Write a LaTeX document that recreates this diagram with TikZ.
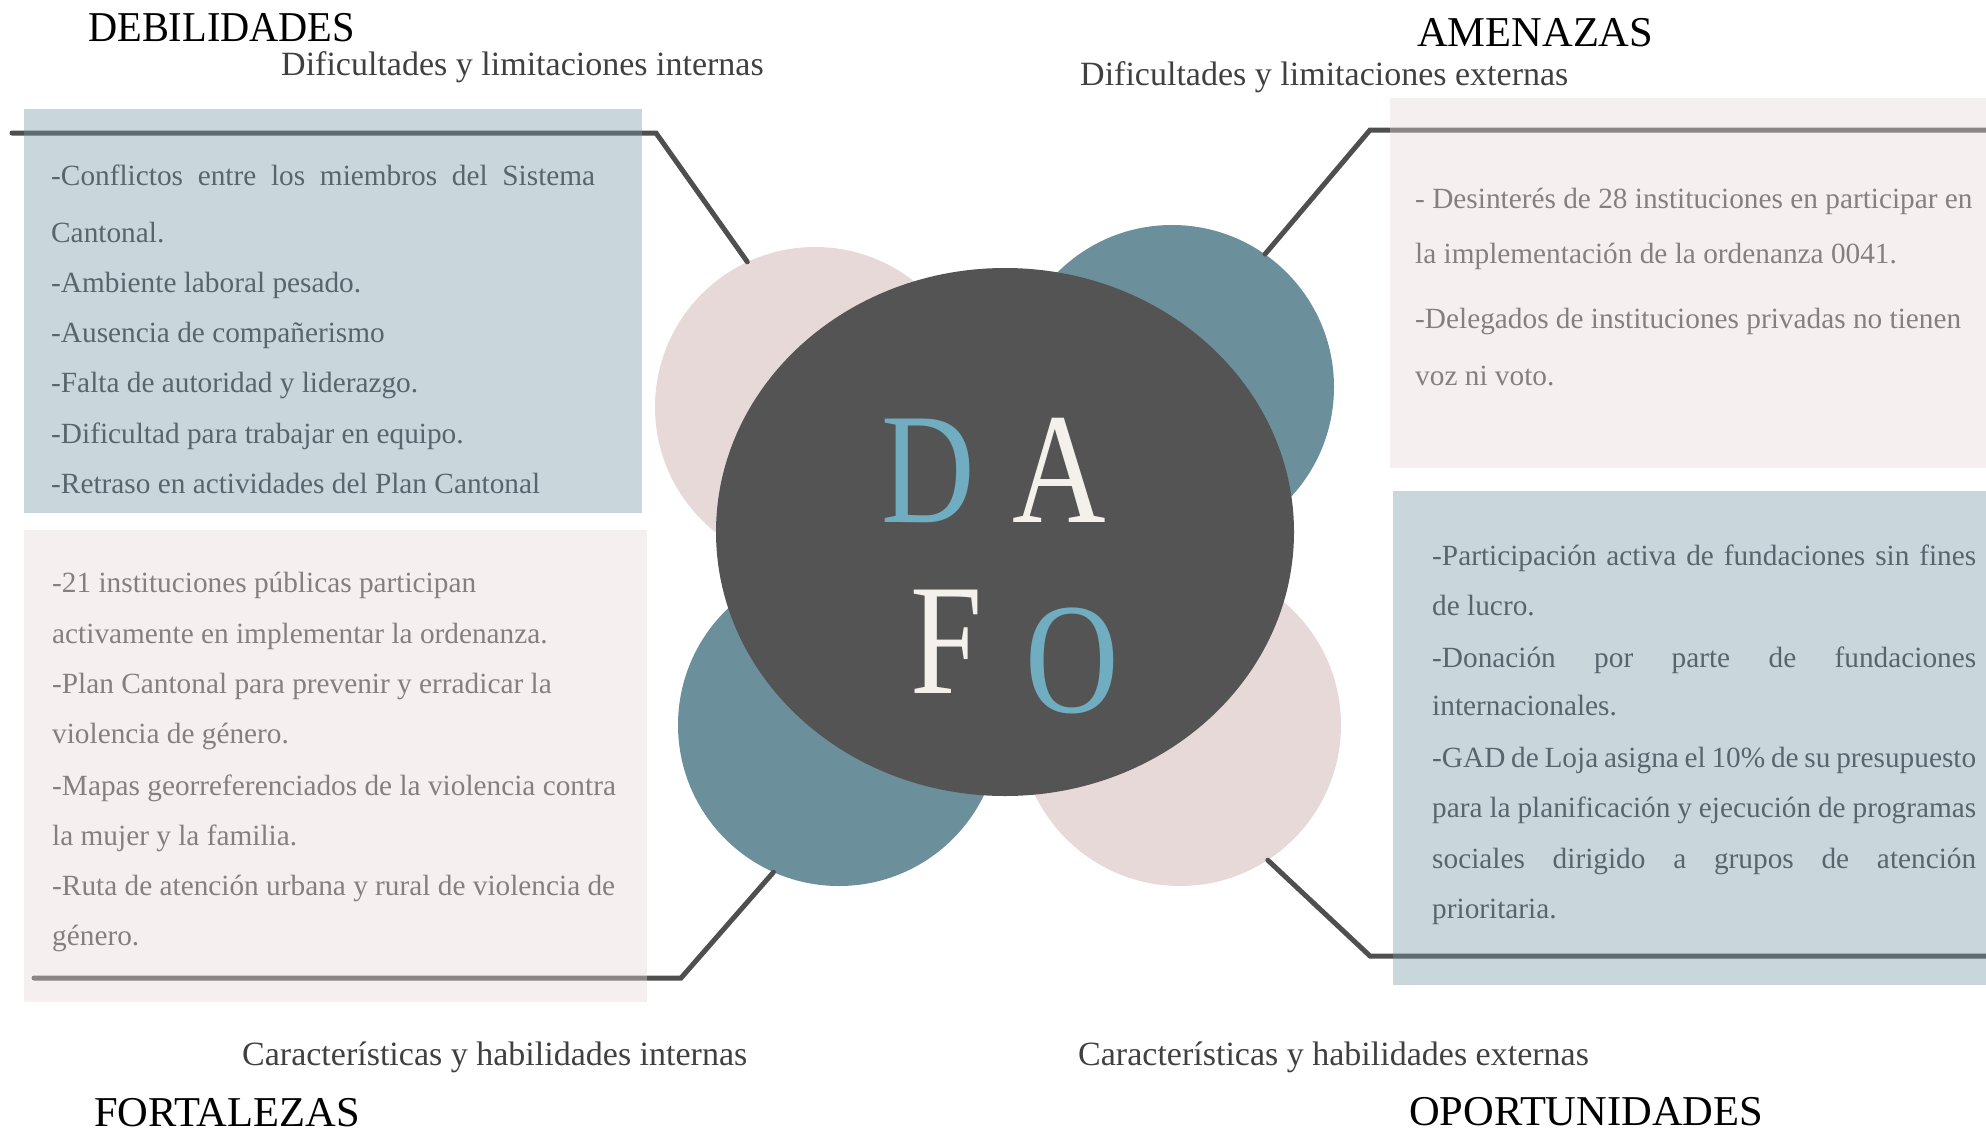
\documentclass[tikz,border=0pt]{standalone}
\usepackage{fontspec}
\setmainfont{Liberation Serif}
\newfontfamily\titlef{Liberation Serif}
\newfontfamily\titlenarrow[FakeStretch=0.95]{Liberation Serif}
\newfontfamily\dafof[FakeStretch=0.82]{Liberation Serif}
\usetikzlibrary{shapes.geometric}
\definecolor{pinkc}{HTML}{E8D9D9}
\definecolor{tealc}{HTML}{6B8F9B}
\definecolor{darkc}{HTML}{545454}
\definecolor{letblue}{HTML}{71ADC1}
\definecolor{letwhite}{HTML}{F4F0EC}
\definecolor{boxblue}{HTML}{7898A7}
\definecolor{boxpink}{HTML}{E6D7D7}
\definecolor{linegray}{HTML}{4F4F4F}
\definecolor{slatetxt}{HTML}{59656C}
\definecolor{graytxt}{HTML}{857F7F}
\definecolor{subgray}{HTML}{404040}
\begin{document}
\begin{tikzpicture}[x=1pt,y=-1pt,
  titletxt/.style={anchor=base west, inner sep=0pt, text=black, font=\titlef\fontsize{42.5}{42}\selectfont},
  subtxt/.style={anchor=base west, inner sep=0pt, text=subgray, font=\fontsize{34}{34}\selectfont},
  bodyd/.style={anchor=base west, inner sep=0pt, text=slatetxt, font=\fontsize{29.3}{30}\selectfont},
  bodyl/.style={anchor=base west, inner sep=0pt, text=graytxt, font=\fontsize{29.3}{30}\selectfont},
  conn/.style={draw=linegray, line width=5pt, line cap=round},
  bluebox/.style={anchor=north west, fill=boxblue, fill opacity=0.4, draw=none, inner sep=0pt},
  pinkbox/.style={anchor=north west, fill=boxpink, fill opacity=0.4, draw=none, inner sep=0pt},
  bubble/.style={circle, draw=none, inner sep=0pt, minimum size=#1},
  letter/.style={anchor=base west, inner sep=0pt, font=\dafof\fontsize{158}{158}\selectfont}
]
\useasboundingbox (0,0) rectangle (1986,1132);

% circles
\node[bubble=320pt, fill=pinkc] (c1) at (815,407) {};
\node[bubble=324pt, fill=tealc] (c2) at (1172,387) {};
\node[bubble=322pt, fill=tealc] (c3) at (839,725) {};
\node[bubble=322pt, fill=pinkc] (c4) at (1180,725) {};
\node[ellipse, draw=none, fill=darkc, inner sep=0pt, minimum width=578pt, minimum height=528pt] (core) at (1005,532) {};

% letters
\node[letter, text=letblue] (lD) at (881,522) {D};
\node[letter, text=letwhite] (lA) at (1012,522) {A};
\node[letter, text=letwhite] (lF) at (910,693) {F};
\node[letter, text=letblue] (lO) at (1025,712) {O};

% connectors
\coordinate (tlend) at (12,133);
\coordinate (tlcorner) at (656,133);
\coordinate (trend) at (1986,130);
\coordinate (trcorner) at (1370,130);
\coordinate (blend) at (34,978);
\coordinate (blcorner) at (681,978);
\coordinate (brend) at (1986,956);
\coordinate (brcorner) at (1370,956);
\draw[conn] (tlend) -- (tlcorner) -- (c1.115);
\draw[conn] (trend) -- (trcorner) -- (c2.55);
\draw[conn] (blend) -- (blcorner) -- (c3.246);
\draw[conn] (brend) -- (brcorner) -- (c4.303);

% boxes
\node[bluebox, minimum width=618pt, minimum height=404pt] (tlbox) at (24,109) {};
\node[pinkbox, minimum width=623pt, minimum height=472pt] (blbox) at (24,530) {};
\node[pinkbox, minimum width=596pt, minimum height=370pt] (trbox) at (1390,98) {};
\node[bluebox, minimum width=593pt, minimum height=494pt] (brbox) at (1393,491) {};

% titles
\node[titletxt, font=\titlenarrow\fontsize{42.5}{42}\selectfont] (tD) at (88,42) {DEBILIDADES};
\node[subtxt] (sD) at (281,76) {Dificultades y limitaciones internas};
\node[titletxt] (tA) at (1417,47) {AMENAZAS};
\node[subtxt] (sA) at (1080,85) {Dificultades y limitaciones externas};
\node[subtxt] (sF) at (242,1065) {Características y habilidades internas};
\node[titletxt] (tF) at (94,1126) {FORTALEZAS};
\node[subtxt] (sO) at (1078,1065) {Características y habilidades externas};
\node[titletxt] (tO) at (1409,1125) {OPORTUNIDADES};

% debilidades text
\node[bodyd] (d1) at (51,185) {\makebox[544pt][s]{-Conflictos entre los miembros del Sistema}};
\node[bodyd] (d2) at (51,242) {Cantonal.};
\node[bodyd] (d3) at (51,292) {-Ambiente laboral pesado.};
\node[bodyd] (d4) at (51,342) {-Ausencia de compañerismo};
\node[bodyd] (d5) at (51,392) {-Falta de autoridad y liderazgo.};
\node[bodyd] (d6) at (51,443) {-Dificultad para trabajar en equipo.};
\node[bodyd] (d7) at (51,493) {-Retraso en actividades del Plan Cantonal};

% fortalezas text
\node[bodyl] (f1) at (52,592) {-21 instituciones públicas participan};
\node[bodyl] (f2) at (52,643) {activamente en implementar la ordenanza.};
\node[bodyl] (f3) at (52,693) {-Plan Cantonal para prevenir y erradicar la};
\node[bodyl] (f4) at (52,743) {violencia de género.};
\node[bodyl] (f5) at (52,795) {-Mapas georreferenciados de la violencia contra};
\node[bodyl] (f6) at (52,845) {la mujer y la familia.};
\node[bodyl] (f7) at (52,895) {-Ruta de atención urbana y rural de violencia de};
\node[bodyl] (f8) at (52,945) {género.};

% amenazas text
\node[bodyl] (a1) at (1415,208) {- Desinterés de 28 instituciones en participar en};
\node[bodyl] (a2) at (1415,263) {la implementación de la ordenanza 0041.};
\node[bodyl] (a3) at (1415,328) {-Delegados de instituciones privadas no tienen};
\node[bodyl] (a4) at (1415,385) {voz ni voto.};

% oportunidades text
\node[bodyd] (o1) at (1432,565) {\makebox[544pt][s]{-Participación activa de fundaciones sin fines}};
\node[bodyd] (o2) at (1432,615) {de lucro.};
\node[bodyd] (o3) at (1432,667) {\makebox[544pt][s]{-Donación por parte de fundaciones}};
\node[bodyd] (o4) at (1432,715) {internacionales.};
\node[bodyd] (o5) at (1432,767) {\makebox[544pt][s]{-GAD de Loja asigna el 10\% de su presupuesto}};
\node[bodyd] (o6) at (1432,817) {\makebox[544pt][s]{para la planificación y ejecución de programas}};
\node[bodyd] (o7) at (1432,868) {\makebox[544pt][s]{sociales dirigido a grupos de atención}};
\node[bodyd] (o8) at (1432,918) {prioritaria.};
\end{tikzpicture}
\end{document}
